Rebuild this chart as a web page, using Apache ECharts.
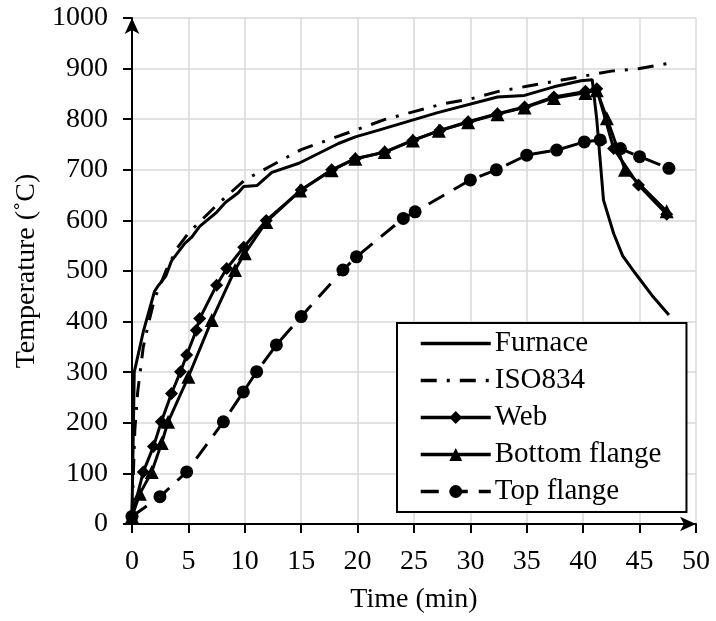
<!DOCTYPE html>
<html><head><meta charset="utf-8">
<script src="https://cdn.jsdelivr.net/npm/echarts@6/dist/echarts.min.js"></script>
<style>html,body{margin:0;padding:0;background:#fff}#c{width:716px;height:621px}</style>
</head><body><div id="c"></div>
<script>
const seriesNames = ['Furnace', 'ISO834', 'Web', 'Bottom flange', 'Top flange'];
const furnace = [[0,20],[0.2,300],[0.5,330],[1,380],[2,460],[2.3,470],[3,490],[3.5,520],[4.7,555],[5.3,567],[6,588],[7.5,616],[8.3,636],[9.4,654],[9.9,667],[11.1,669],[12.4,695],[14.8,713],[18.3,752],[19.8,765],[21.8,778],[27.1,813],[32.4,844],[34.8,847],[37.4,864],[39.8,876],[40.8,878],[41.2,800],[41.5,720],[41.8,640],[42.7,574],[43.5,530],[44.6,496],[46.2,449],[47.6,413]];
const iso834 = [[0,20],[0.25,185],[0.5,260],[1,350],[1.5,400],[2,445],[3,500],[4,545],[5,575],[7.5,630],[10,680],[12.5,710],[15,740],[17.5,760],[20,780],[22.5,800],[25,815],[27.5,830],[30,840],[32.5,855],[35,865],[37.5,875],[40,885],[42.5,895],[45,900],[47.5,910]];
const web = [[0,15],[1,103],[1.9,153],[2.6,202],[3.5,258],[4.3,301],[4.85,334],[5.7,383],[6,406],[7.5,472],[8.4,505],[9.9,547],[11.9,600],[15,660],[17.7,700],[19.8,722],[22.4,735],[24.9,758],[27.3,778],[29.8,795],[32.4,811],[34.8,824],[37.4,844],[40.2,855],[41.2,860],[42.7,742],[44.9,670],[47.4,612]];
const bottomFlange = [[0,15],[0.7,60],[1.75,103],[2.63,160],[3.2,202],[5.0,291],[7.07,403],[9.13,502],[10.0,535],[11.9,597],[14.9,659],[17.7,699],[19.8,722],[22.4,735],[24.9,758],[27.2,777],[29.8,794],[32.4,810],[34.8,823],[37.4,842],[40.2,852],[41.2,857],[42.1,802],[43.7,700],[47.4,618]];
const topFlange = [[0,15],[2.48,54],[4.85,103],[8.1,202],[9.87,261],[11.05,301],[12.8,354],[15.0,410],[18.7,502],[19.9,528],[24.05,604],[25.1,617],[30.0,680],[32.3,700],[35.0,729],[37.65,739],[40.1,755],[41.5,759],[43.3,742],[45.0,726],[47.6,703]];
const xAxisName = 'Time (min)';
const yAxisName = 'Temperature (˚C)';

const FONT = "'Liberation Serif','Times New Roman',serif";
const chart = echarts.init(document.getElementById('c'), null, {renderer: 'canvas'});
const axisCommon = {
  axisLine: {show: true, onZero: false, lineStyle: {color: '#000', width: 2}, symbol: ['none', 'arrow'], symbolSize: [11, 16], symbolOffset: [0, 0]},
  axisTick: {show: true, inside: false, length: 9, lineStyle: {color: '#000', width: 2}},
  splitLine: {show: true, lineStyle: {color: '#d9d9d9', width: 1.5}},
  axisLabel: {color: '#000', fontFamily: FONT, fontSize: 28, formatter: v => String(v)},
  nameTextStyle: {color: '#000', fontFamily: FONT, fontSize: 28},
  nameLocation: 'middle'
};
const noMark = {color: 'rgba(0,0,0,0)', borderWidth: 0};
const option = {
  backgroundColor: '#fff',
  animation: false,
  grid: {left: 132, right: 20, top: 18, bottom: 97, containLabel: false},
  xAxis: Object.assign({}, axisCommon, {type: 'value', min: 0, max: 50, interval: 5, name: xAxisName, nameGap: 62,
    axisLabel: Object.assign({}, axisCommon.axisLabel, {margin: 24})}),
  yAxis: Object.assign({}, axisCommon, {type: 'value', min: 0, max: 1000, interval: 100, name: yAxisName, nameGap: 88,
    axisLabel: Object.assign({}, axisCommon.axisLabel, {margin: 24})}),
  legend: {
    orient: 'vertical', left: 397, top: 323, itemWidth: 70, itemHeight: 16, itemGap: 8,
    padding: [6, 25, 6, 22], borderColor: '#000', borderWidth: 2, backgroundColor: '#fff',
    lineStyle: {width: 3.5},
    textStyle: {color: '#000', fontFamily: FONT, fontSize: 29, padding: [0, 0, 0, -1]},
    data: [
      {name: seriesNames[0], itemStyle: noMark},
      {name: seriesNames[1], itemStyle: noMark},
      {name: seriesNames[2]},
      {name: seriesNames[3]},
      {name: seriesNames[4]}
    ]
  },
  series: [
    {name: seriesNames[4], type: 'line', data: topFlange, symbol: 'circle', symbolSize: 13,
      itemStyle: {color: '#000'}, lineStyle: {color: '#000', width: 3, type: [18, 11]}, z: 2},
    {name: seriesNames[3], type: 'line', data: bottomFlange, symbol: 'triangle', symbolSize: 14,
      itemStyle: {color: '#000'}, lineStyle: {color: '#000', width: 3}, z: 3},
    {name: seriesNames[2], type: 'line', data: web, symbol: 'diamond', symbolSize: 13,
      itemStyle: {color: '#000'}, lineStyle: {color: '#000', width: 3}, z: 4},
    {name: seriesNames[1], type: 'line', data: iso834, symbol: 'none',
      itemStyle: {color: '#000'}, lineStyle: {color: '#000', width: 3, type: [16, 10, 3, 10]}, z: 5},
    {name: seriesNames[0], type: 'line', data: furnace, symbol: 'none',
      itemStyle: {color: '#000'}, lineStyle: {color: '#000', width: 3}, z: 6}
  ]
};
chart.setOption(option);
</script></body></html>
